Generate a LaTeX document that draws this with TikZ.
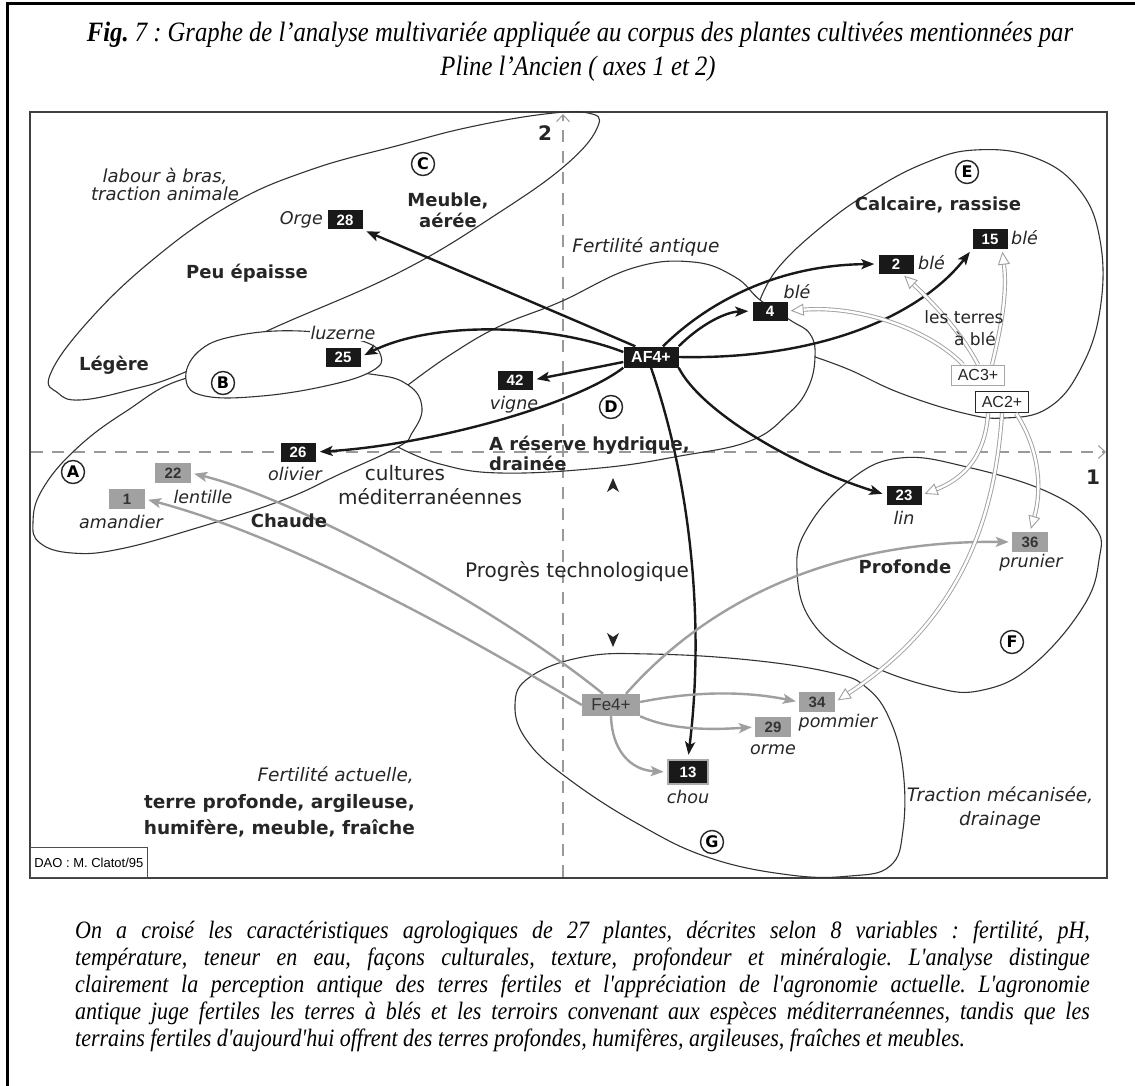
\documentclass[tikz,border=0pt]{standalone}
\usepackage{fontspec}
\usepackage{graphicx}
\setmainfont{DejaVu Sans}
\newfontfamily\arialf{Liberation Sans}
\newfontfamily\timesf{Liberation Serif}
\usetikzlibrary{arrows.meta,calc}
\frenchspacing
\begin{document}
\begin{tikzpicture}[x=1pt,y=-1pt,
  region/.style={draw=black!80, line width=1.1pt},
  axisline/.style={draw=gray!80, line width=1.2pt, dash pattern=on 12pt off 9pt},
  blk/.style={draw=black!90, line width=2.4pt, -{Stealth[length=13pt,width=10pt,inset=3pt]}, shorten >=4pt},
  gry/.style={draw=gray!75, line width=2.4pt, -{Stealth[length=13pt,width=10pt,inset=3pt]}, shorten >=3pt},
  hol/.style={draw=gray!75, line width=0.9pt, double=white, double distance=2.4pt, -{Triangle[open,fill=white,length=13pt,width=12pt,line width=0.9pt]}, shorten >=3pt},
  bbox/.style={fill=black!90, text=white, font=\arialf\bfseries\fontsize{15}{15}\selectfont, minimum width=35pt, minimum height=19pt, inner sep=1pt},
  gbox/.style={fill=black!37, text=black!80, font=\arialf\bfseries\fontsize{15}{15}\selectfont, minimum width=36pt, minimum height=20pt, inner sep=1pt},
  boldlab/.style={font=\bfseries\fontsize{18}{21}\selectfont, align=center, inner sep=1pt, text=black!85},
  itallab/.style={font=\itshape\fontsize{17.5}{19}\selectfont, align=center, inner sep=1pt, text=black!85},
  reglab/.style={font=\fontsize{20}{22}\selectfont, align=center, inner sep=1pt, text=black!85},
  circ/.style={circle, draw=black!85, line width=1.4pt, inner sep=0pt, minimum size=23pt, font=\bfseries\fontsize{16}{16}\selectfont},
  capline/.style={font=\timesf\itshape\fontsize{25}{27}\selectfont, anchor=west, inner sep=0pt},
  titleline/.style={font=\timesf\itshape\fontsize{28}{30}\selectfont, inner sep=0pt}
]
\useasboundingbox[fill=white] (0,0) rectangle (1135,1086);

% outer page lines
\draw[line width=3pt] (7,1086) -- (7,4) -- (1135,4);

% title
\node[titleline] (t1) at (580,35)
  {\scalebox{0.88}[1]{\textbf{Fig.} 7 : Graphe de l’analyse multivariée appliquée au corpus des plantes cultivées mentionnées par}};
\node[titleline] (t2) at (578,69) {\scalebox{0.88}[1]{Pline l’Ancien ( axes 1 et 2)}};

% frame
\draw[line width=2.5pt, black!75] (30,112) rectangle (1107,878);

% axes
\coordinate (ax2b) at (563,877);
\coordinate (ax2t) at (563,114);
\coordinate (ax1l) at (31,452);
\coordinate (ax1r) at (1106,452);
\draw[axisline, -{Straight Barb[length=7pt,width=13pt,line width=1pt]}] (ax2b) -- (ax2t);
\draw[axisline, -{Straight Barb[length=7pt,width=13pt,line width=1pt]}] (ax1l) -- (ax1r);
\node[font=\bfseries\fontsize{20}{20}\selectfont, text=black!85] (lab2) at (545,133) {2};
\node[font=\bfseries\fontsize{20}{20}\selectfont, text=black!85] (lab1) at (1093,477) {1};

% regions
\draw[region] plot[smooth cycle, tension=0.7] coordinates {(33,522) (42,490) (75,450) (125,412) (187,378) (280,368) (370,374) (408,385) (422,408) (412,433) (398,447) (340,474) (283,500) (200,527) (120,549) (72,553) (40,543)};
\draw[region] plot[smooth cycle, tension=0.7] coordinates {(50,375) (58,393) (80,400) (130,390) (183,373) (267,331) (400,272) (500,212) (568,163) (598,126) (588,113) (545,114) (470,127) (400,145) (310,170) (230,205) (150,262) (85,325)};
\draw[region] plot[smooth, tension=0.7] coordinates {(408,385) (450,355) (500,326) (560,302) (633,268) (693,262) (735,277) (760,300) (790,320) (810,334) (815,357) (808,388) (788,414) (750,441) (680,456) (600,468) (500,473) (440,464) (398,447)};
\draw[region] plot[smooth, tension=0.7] coordinates {(760,300) (778,268) (820,228) (870,192) (925,163) (975,150) (1033,157) (1078,188) (1100,240) (1100,310) (1080,370) (1048,408) (1005,418) (963,413) (900,393) (850,370) (815,357)};
\draw[region] plot[smooth cycle, tension=0.7] coordinates {(850,480) (900,458) (967,467) (1050,493) (1095,527) (1099,560) (1083,607) (1033,665) (983,690) (933,687) (860,660) (812,622) (797,570) (808,527)};
\draw[region] plot[smooth cycle, tension=0.7] coordinates {(515,705) (530,677) (583,657) (650,654) (750,660) (833,673) (867,688) (890,720) (903,770) (903,830) (890,866) (850,876) (790,875) (710,858) (640,825) (570,780) (528,742)};
\draw[region, fill=white] plot[smooth cycle, tension=0.7] coordinates {(186,380) (198,352) (235,336) (300,331) (362,341) (381,356) (372,371) (330,385) (262,396) (205,396)};

% boxes
\node[bbox] (n28) at (345,220) {28};
\node[bbox] (n25) at (343,357) {25};
\node[bbox] (n42) at (515,380) {42};
\node[bbox] (n26) at (298,452) {26};
\node[bbox, minimum width=55pt, minimum height=21pt, font=\arialf\bfseries\fontsize{16}{16}\selectfont] (af) at (651,357) {AF4+};
\node[bbox] (n4) at (770,311) {4};
\node[bbox] (n2) at (896,264) {2};
\node[bbox] (n15) at (990,239) {15};
\node[fill=white, draw=gray!70, line width=0.8pt, font=\arialf\fontsize{16}{16}\selectfont, minimum width=53pt, minimum height=20pt, inner sep=1pt, text=black!85] (ac3) at (978,375) {AC3+};
\node[fill=white, draw=black!85, line width=1.6pt, font=\arialf\fontsize{16}{16}\selectfont, minimum width=53pt, minimum height=21pt, inner sep=1pt, text=black!85] (ac2) at (1002,402) {AC2+};
\node[bbox] (n23) at (904,495) {23};
\node[gbox] (n36) at (1030,542) {36};
\node[gbox] (n34) at (817,702) {34};
\node[gbox] (n29) at (773,727) {29};
\node[bbox, draw=gray!65, line width=2.5pt, minimum width=40pt, minimum height=24pt] (n13) at (688,772) {13};
\node[gbox, font=\arialf\fontsize{17}{17}\selectfont, minimum width=58pt, minimum height=22pt] (fe) at (611,705) {Fe4+};
\node[gbox] (n22) at (173,473) {22};
\node[gbox] (n1) at (127,499) {1};

% black arrows from AF4+
\draw[blk] ($(af.north west)+(12,0)$) -- (n28.south east);
\draw[blk] ($(af.west)+(0,-5)$) .. controls (545,322) and (430,322) .. (n25.east);
\draw[blk] ($(af.west)+(0,5)$) -- (n42.east);
\draw[blk] (af.south west) .. controls (575,405) and (430,445) .. (n26.east);
\draw[blk] (af.north east) .. controls (700,325) and (725,312) .. (n4.west);
\draw[blk] ($(af.north)+(12,0)$) .. controls (710,300) and (780,265) .. (n2.west);
\draw[blk] (af.east) .. controls (830,360) and (925,310) .. (n15.south west);
\draw[blk] (af.south east) .. controls (700,410) and (790,465) .. (n23.west);
\draw[blk] (af.south) .. controls (690,480) and (705,620) .. (n13.north);

% grey arrows from Fe4+
\draw[gry] ($(fe.north)+(-8,0)$) .. controls (500,610) and (300,500) .. (n22.east);
\draw[gry] (fe.west) .. controls (490,650) and (300,540) .. (n1.east);
\draw[gry] ($(fe.north)+(15,0)$) .. controls (700,610) and (820,540) .. (n36.west);
\draw[gry] ($(fe.east)+(0,-3)$) .. controls (700,690) and (750,692) .. (n34.west);
\draw[gry] (fe.south east) .. controls (670,730) and (710,730) .. (n29.west);
\draw[gry] (fe.south) .. controls (612,750) and (630,770) .. (n13.west);

% hollow arrows from AC3+ and AC2+
\draw[hol] ($(ac3.north)+(-15,0)$) .. controls (930,330) and (860,305) .. (n4.east);
\draw[hol] (ac3.north) .. controls (960,330) and (930,300) .. ($(n2.south)+(6,0)$);
\draw[hol] ($(ac3.north)+(14,0)$) .. controls (1003,320) and (1007,290) .. ($(n15.south)+(12,0)$);
\draw[hol] ($(ac2.south)+(-14,0)$) .. controls (985,460) and (960,480) .. (n23.east);
\draw[hol] (ac2.south) .. controls (995,520) and (960,620) .. (n34.east);
\draw[hol] ($(ac2.south)+(14,0)$) .. controls (1040,450) and (1042,490) .. (n36.north);

% progress arrowheads
\fill[black!85] (613,478) -- (619,492) -- (613,488) -- (607,492) -- cycle;
\fill[black!85] (613,647) -- (619,633) -- (613,637) -- (607,633) -- cycle;

% plant labels
\node[itallab, anchor=east] (lorge) at (324,220) {Orge};
\node[itallab, fill=white] (lluz) at (343,333) {luzerne};
\node[itallab] (lvig) at (514,405) {vigne};
\node[itallab] (loli) at (295,474) {olivier};
\node[itallab] (lble4) at (797,292) {blé};
\node[itallab, anchor=west] (lble2) at (917,263) {blé};
\node[itallab, anchor=west] (lble15) at (1010,238) {blé};
\node[itallab] (llin) at (904,518) {lin};
\node[itallab] (lpru) at (1031,563) {prunier};
\node[itallab] (lpom) at (838,723) {pommier};
\node[itallab] (lorm) at (773,750) {orme};
\node[itallab] (lchou) at (688,797) {chou};
\node[itallab] (llent) at (203,497) {lentille};
\node[itallab] (laman) at (121,522) {amandier};

% region labels
\node[itallab, font=\itshape\fontsize{18}{18}\selectfont] (llab) at (165,184) {labour à bras,\\traction animale};
\node[circ] (cC) at (423,164) {C};
\node[boldlab] (lmeu) at (448,210) {Meuble,\\aérée};
\node[boldlab] (lpeu) at (247,273) {Peu épaisse};
\node[boldlab] (lleg) at (114,365) {Légère};
\node[circ] (cB) at (223,383) {B};
\node[circ] (cA) at (73,472) {A};
\node[boldlab] (lcha) at (289,521) {Chaude};
\node[reglab] (lcult) at (405,473) {cultures};
\node[reglab] (lmed) at (430,497) {méditerranéennes};
\node[itallab, font=\itshape\fontsize{18.5}{19}\selectfont] (lfant) at (646,247) {Fertilité antique};
\node[circ] (cD) at (611,407) {D};
\node[boldlab, anchor=west, align=left, font=\bfseries\fontsize{18}{20}\selectfont] (lres) at (488,453) {A réserve hydrique,\\drainée};
\node[circ] (cE) at (967,172) {E};
\node[boldlab] (lcal) at (938,205) {Calcaire, rassise};
\node[reglab, font=\fontsize{17}{17}\selectfont] (lter) at (964,317) {les terres};
\node[reglab, font=\fontsize{17}{17}\selectfont] (lable) at (975,339) {à blé};
\node[boldlab] (lpro) at (905,567) {Profonde};
\node[circ] (cF) at (1012,642) {F};
\node[reglab] (lprog) at (577,572) {Progrès technologique};
\node[itallab, anchor=east, font=\itshape\fontsize{18.5}{19}\selectfont] (lfact) at (415,775) {Fertilité actuelle,};
\node[boldlab, anchor=east, align=right, font=\bfseries\fontsize{18.5}{26}\selectfont] (lterre) at (416,816) {terre profonde, argileuse,\\humifère, meuble, fraîche};
\node[circ] (cG) at (712,842) {G};
\node[itallab, font=\itshape\fontsize{18.5}{24}\selectfont] (ltrac) at (1000,808) {Traction mécanisée,\\drainage};

% DAO
\node[draw=black!70, line width=0.6pt, fill=white, font=\arialf\fontsize{13}{13}\selectfont, anchor=south west, inner sep=4pt, minimum height=30pt] (dao) at (30,878) {DAO : M. Clatot/95};

% caption
\node[capline] (c1) at (75,932) {\scalebox{0.88}[1]{\makebox[1153pt][s]{On a croisé les caractéristiques agrologiques de 27 plantes, décrites selon 8 variables : fertilité, pH,}}};
\node[capline] (c2) at (75,959) {\scalebox{0.88}[1]{\makebox[1153pt][s]{température, teneur en eau, façons culturales, texture, profondeur et minéralogie. L'analyse distingue}}};
\node[capline] (c3) at (75,986) {\scalebox{0.88}[1]{\makebox[1153pt][s]{clairement la perception antique des terres fertiles et l'appréciation de l'agronomie actuelle. L'agronomie}}};
\node[capline] (c4) at (75,1013) {\scalebox{0.88}[1]{\makebox[1153pt][s]{antique juge fertiles les terres à blés et les terroirs convenant aux espèces méditerranéennes, tandis que les}}};
\node[capline] (c5) at (75,1040) {\scalebox{0.88}[1]{terrains fertiles d'aujourd'hui offrent des terres profondes, humifères, argileuses, fraîches et meubles.}};
\end{tikzpicture}
\end{document}
